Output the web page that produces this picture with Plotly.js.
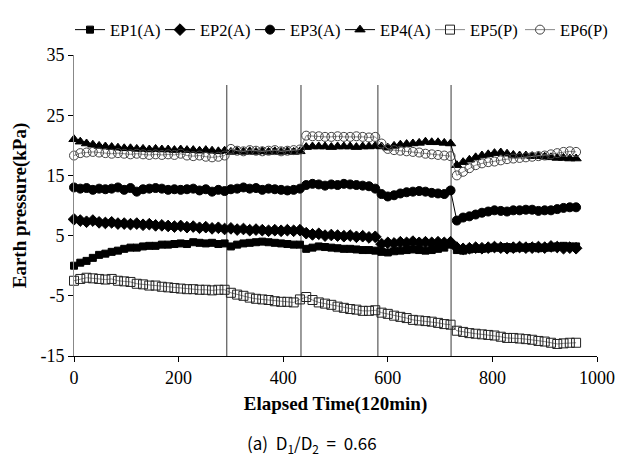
<!DOCTYPE html>
<html>
<head>
<meta charset="utf-8">
<script src="https://cdn.plot.ly/plotly-3.0.1.min.js"></script>
<style>html,body{margin:0;padding:0;background:#fff;}#chart{width:617px;height:461px;}</style>
</head>
<body>
<div id="chart"></div>
<script>
const elapsedTime = [0,12,24,36,48,60,72,84,96,108,120,132,144,156,168,180,192,204,216,228,240,252,264,276,288,
  300,312,324,336,348,360,372,384,396,408,420,432,
  444,456,468,480,492,504,516,528,540,552,564,576,
  588,600,612,624,636,648,660,672,684,696,708,720,
  732,744,756,768,780,792,804,816,828,840,852,864,876,888,900,912,924,936,948,960];

const ep1 = [0.0,0.5,0.8,1.3,1.8,2.0,2.3,2.5,2.8,3.0,3.0,3.2,3.3,3.3,3.5,3.5,3.6,3.7,3.6,3.9,3.8,3.7,3.8,3.6,3.7,
  3.2,3.5,3.7,3.8,3.9,4.0,3.9,3.8,3.7,3.6,3.5,3.5,
  2.8,3.0,3.2,3.1,3.0,2.9,2.8,2.8,2.7,2.6,2.6,2.5,
  2.3,2.2,2.4,2.5,2.6,2.7,2.6,2.5,2.6,2.8,3.0,3.5,
  2.6,2.5,2.7,2.8,2.8,2.9,3.0,3.0,3.1,2.9,3.0,3.0,3.1,2.9,3.0,3.0,3.2,3.3,3.2,3.2];

const ep2 = [7.7,7.5,7.3,7.5,7.2,7.1,7.2,7.0,7.0,6.9,7.0,6.8,6.9,6.7,6.7,6.6,6.5,6.6,6.4,6.5,6.3,6.4,6.2,6.3,6.1,
  6.2,6.0,6.1,5.9,6.0,5.9,5.8,5.9,5.8,5.9,5.8,5.9,
  5.4,5.2,5.3,5.0,5.1,5.0,4.9,5.0,4.8,4.9,4.7,4.8,
  3.6,3.8,3.7,3.9,3.8,4.0,3.8,3.9,3.8,3.9,3.8,3.9,
  3.0,2.8,2.9,3.0,2.9,3.0,3.1,3.0,2.9,3.0,3.1,3.0,3.0,3.1,3.0,3.2,3.1,2.9,3.0,2.9];

const ep3 = [13.0,12.8,12.9,12.6,12.8,12.7,12.8,13.0,12.6,12.9,12.3,12.7,12.8,12.9,12.8,12.6,12.7,12.6,12.7,12.8,12.5,12.7,12.3,12.6,12.4,
  12.7,12.8,13.0,12.8,12.9,12.6,12.8,12.7,12.6,12.5,12.6,12.8,
  13.4,13.6,13.5,13.3,13.5,13.4,13.6,13.5,13.4,13.3,13.2,12.8,
  11.9,11.5,11.7,12.0,12.2,12.3,12.4,12.3,12.1,12.0,11.9,12.5,
  7.5,8.0,8.2,8.5,8.8,9.0,9.2,9.1,9.0,9.2,9.2,9.3,9.3,9.1,9.2,9.2,9.4,9.6,9.7,9.7];

const ep4 = [21.0,20.6,20.3,20.1,19.9,19.8,19.7,19.6,19.5,19.5,19.4,19.4,19.3,19.4,19.3,19.3,19.2,19.3,19.2,19.2,19.1,19.2,19.1,19.0,19.1,
  18.9,19.0,18.9,19.0,18.9,19.0,18.9,19.0,18.9,19.0,18.9,19.0,
  19.7,19.8,19.8,19.8,19.7,19.8,19.8,19.8,19.7,19.8,19.8,19.9,
  19.8,19.6,19.9,20.1,20.2,20.3,20.4,20.6,20.5,20.5,20.4,20.3,
  16.7,17.2,17.6,18.0,18.3,18.5,18.7,18.8,18.6,18.4,18.3,18.3,18.2,18.2,18.1,18.0,17.9,17.9,17.8,17.8];

const ep5 = [-2.5,-2.2,-2.0,-2.1,-2.2,-2.3,-2.2,-2.5,-2.6,-2.7,-3.0,-3.1,-3.3,-3.3,-3.5,-3.6,-3.7,-3.8,-3.9,-3.9,-4.0,-4.0,-4.1,-4.0,-4.0,
  -4.5,-4.8,-5.0,-5.3,-5.5,-5.6,-5.7,-5.9,-6.0,-6.0,-6.1,-5.6,
  -5.2,-5.7,-6.1,-6.3,-6.5,-6.8,-7.0,-7.2,-7.3,-7.5,-7.5,-7.4,
  -7.8,-8.0,-8.3,-8.5,-8.7,-9.0,-9.1,-9.2,-9.3,-9.5,-9.7,-9.8,
  -10.8,-11.0,-11.2,-11.3,-11.4,-11.5,-11.6,-11.8,-12.0,-12.0,-12.1,-12.2,-12.3,-12.5,-12.6,-12.8,-13.0,-12.9,-12.8,-12.8];

const ep6 = [18.3,18.7,18.8,18.9,18.8,18.7,18.6,18.7,18.6,18.5,18.6,18.5,18.4,18.5,18.4,18.5,18.4,18.6,18.3,18.2,18.3,18.1,18.0,18.1,18.3,
  19.4,19.1,19.0,19.2,19.1,19.0,19.1,19.2,19.0,19.1,19.2,19.3,
  21.6,21.5,21.5,21.4,21.4,21.5,21.4,21.4,21.5,21.4,21.3,21.4,
  20.3,19.4,19.2,19.1,19.0,18.9,18.8,18.6,18.5,18.4,18.3,18.2,
  15.0,15.6,16.2,16.7,17.0,17.2,17.3,17.5,17.7,17.8,17.9,18.0,18.1,18.2,18.3,18.5,18.7,18.9,19.0,18.9];

const seriesNames = ["EP1(A)","EP2(A)","EP3(A)","EP4(A)","EP5(P)","EP6(P)"];
const stageLines = [292, 434, 581, 721];
const xTicks = [0,200,400,600,800,1000];
const yTicks = [-15,-5,5,15,25,35];

const serif = "Liberation Serif";
const styles = [
  {symbol:"square", size:7, color:"#000", fill:"#000", lc:"#000"},
  {symbol:"diamond", size:9, color:"#000", fill:"#000", lc:"#000"},
  {symbol:"circle", size:9, color:"#000", fill:"#000", lc:"#000"},
  {symbol:"triangle-up", size:9, color:"#000", fill:"#000", lc:"#000"},
  {symbol:"square-open", size:9, color:"#222", fill:"#222", lc:"#888"},
  {symbol:"circle-open", size:9, color:"#444", fill:"#444", lc:"#888"}
];
const ys = [ep1, ep2, ep3, ep4, ep5, ep6];

const traces = ys.map((y, i) => ({
  type: "scatter",
  mode: "lines+markers",
  name: seriesNames[i],
  x: elapsedTime,
  y: y,
  line: {color: styles[i].lc, width: 1},
  marker: {symbol: styles[i].symbol, size: styles[i].size, color: styles[i].fill,
           line: {color: styles[i].color, width: 1}},
  cliponaxis: false
}));

const shapes = stageLines.map(v => ({
  type: "line", xref: "x", yref: "y", x0: v, x1: v, y0: -15, y1: 30,
  line: {color: "#666", width: 1.3}, layer: "below"
}));

const layout = {
  width: 617, height: 461,
  margin: {l: 74, r: 20, t: 45, b: 105},
  paper_bgcolor: "#fff", plot_bgcolor: "#fff",
  font: {family: serif, color: "#000"},
  showlegend: true,
  legend: {orientation: "h", x: (70-74)/523, xanchor: "left", xref: "paper", y: 1 + 44/311, yref: "paper", yanchor: "top",
           font: {family: serif, size: 16.5, color: "#000"}, itemwidth: 30, tracegroupgap: 0,
           entrywidth: 45, entrywidthmode: "pixels",
           bgcolor: "rgba(0,0,0,0)"},
  xaxis: {range: [0, 1000], tickvals: xTicks, ticktext: xTicks.map(String),
          showgrid: false, zeroline: false, showline: true, linecolor: "#000", linewidth: 1,
          ticks: "outside", ticklen: 5, tickcolor: "#000",
          tickfont: {family: serif, size: 18, color: "#000"},
          title: {text: "<b>Elapsed Time(120min)</b>", font: {family: serif, size: 19, color: "#000"}, standoff: 10}},
  yaxis: {range: [-15, 35], tickvals: yTicks, ticktext: yTicks.map(String),
          showgrid: false, zeroline: false, showline: true, linecolor: "#888", linewidth: 1,
          ticks: "outside", ticklen: 5, tickcolor: "#000",
          tickfont: {family: serif, size: 18, color: "#000"},
          title: {text: "<b>Earth pressure(kPa)</b>", font: {family: serif, size: 19, color: "#000"}, standoff: 8}},
  shapes: shapes,
  annotations: [{
    text: "(a)&nbsp; D<sub>1</sub>/D<sub>2</sub>&nbsp; =&nbsp; 0.66", showarrow: false,
    xref: "paper", yref: "paper", x: (312-74)/523, y: -(446-356)/311, xanchor: "center", yanchor: "middle",
    font: {family: "Noto Sans CJK KR, Liberation Sans, sans-serif", size: 17, color: "#000"}
  }]
};

Plotly.newPlot("chart", traces, layout, {displayModeBar: false, staticPlot: true});
</script>
</body>
</html>
